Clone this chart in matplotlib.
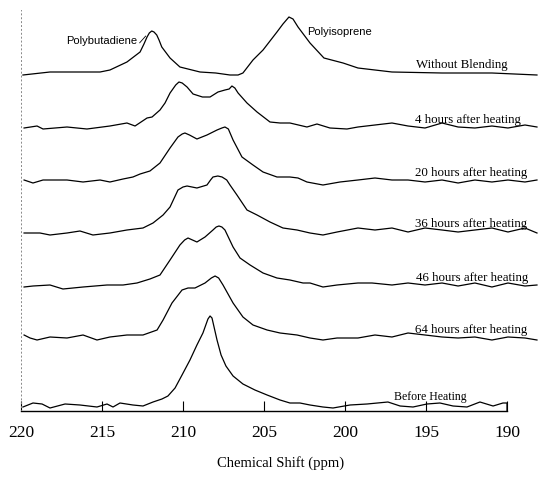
import matplotlib
matplotlib.use("Agg")
import matplotlib.pyplot as plt

# spectra: chemical shift (ppm) and intensity above each trace's baseline
ppm_without = [219.88, 218.21, 215.12, 214.51, 213.46, 212.65, 212.41, 212.22, 212.08, 211.93,
               211.79, 211.62, 211.48, 211.31, 210.80, 210.19, 208.95, 207.98, 207.10, 206.60,
               206.30, 205.68, 205.06, 204.20, 203.83, 203.46, 203.21, 202.90, 202.16, 201.30,
               200.12, 199.20, 197.10, 194.01, 190.93, 188.15]
int_without = [-2, 1, 1, 3, 11, 21, 29, 36, 40, 42,
               41, 38, 33, 26, 15, 6, 1, 0, -2, -2,
               0, 13, 23, 41, 49, 56, 54, 46, 30, 15,
               10, 5, 1, 0, 0, -2]

ppm_4h = [219.81, 219.01, 218.64, 217.16, 215.93, 214.51, 213.46, 212.96, 212.22, 211.91,
          211.42, 211.11, 210.80, 210.45, 210.25, 210.05, 209.75, 209.38, 208.80, 208.33,
          207.84, 207.41, 207.15, 206.98, 206.80, 206.60, 206.05, 205.43, 204.63, 204.01,
          203.40, 202.35, 201.73, 200.93, 199.88, 199.20, 198.15, 197.10, 196.11, 195.06,
          194.01, 193.02, 191.98, 190.93, 189.94, 188.89, 188.15]
int_4h = [0, 2, -1, 1, -1, 2, 5, 2, 10, 11,
          18, 25, 35, 43, 46, 45, 41, 34, 31, 31,
          36, 38, 39, 42, 40, 35, 25, 16, 6, 5,
          5, 1, 4, 0, -1, 1, 3, 5, 2, 0,
          5, 1, 0, 2, 0, 3, 1]

ppm_20h = [219.81, 219.26, 218.64, 217.16, 216.17, 215.12, 214.51, 213.70, 213.09, 212.65,
           212.04, 211.42, 210.80, 210.31, 210.05, 209.88, 209.60, 209.14, 208.52, 207.90,
           207.60, 207.41, 207.20, 206.91, 206.36, 205.68, 205.06, 204.20, 203.40, 202.90,
           202.35, 201.36, 200.31, 199.20, 198.15, 197.10, 196.11, 195.06, 194.01, 193.02,
           191.98, 190.93, 189.94, 188.89, 188.15]
int_20h = [1, -2, 1, 1, -1, 1, -1, 2, 4, 7,
           10, 18, 33, 44, 47, 48, 46, 42, 46, 51,
           53, 54, 52, 41, 24, 16, 9, 4, 4, 3,
           -1, -4, -1, 1, 3, 1, 1, -1, 1, -2,
           1, -1, 1, -1, 1]

ppm_36h = [219.81, 218.83, 218.21, 217.16, 216.36, 215.56, 214.51, 213.46, 212.47, 211.85,
           211.23, 210.80, 210.31, 210.00, 209.75, 209.14, 208.52, 208.30, 208.15, 207.85,
           207.59, 207.30, 207.10, 206.67, 206.05, 205.43, 204.63, 203.83, 202.96, 202.16,
           201.36, 200.49, 199.20, 198.15, 197.10, 196.11, 195.06, 194.01, 193.02, 191.98,
           190.93, 189.94, 188.89, 188.15]
int_36h = [-1, -1, -3, -1, 1, -3, -1, 2, 4, 9,
           17, 25, 42, 45, 46, 44, 47, 52, 55, 56,
           55, 52, 47, 37, 22, 17, 10, 4, 2, -1,
           -3, 0, 4, 2, 4, 0, 4, 2, 0, 2,
           4, 0, 4, -1]

ppm_46h = [219.81, 219.26, 218.21, 217.41, 216.17, 214.69, 213.70, 212.84, 212.04, 211.42,
           210.80, 210.19, 209.90, 209.69, 209.14, 208.64, 208.15, 207.95, 207.78, 207.60,
           207.41, 206.91, 206.48, 205.86, 205.06, 204.20, 203.40, 202.59, 202.16, 201.36,
           200.49, 199.20, 198.33, 197.10, 196.11, 195.06, 194.01, 193.02, 191.98, 190.93,
           189.94, 188.89, 188.15]
int_46h = [-1, 0, 1, -3, -1, 1, 1, 3, 7, 11,
           26, 41, 46, 48, 44, 49, 56, 59, 60, 59,
           56, 39, 28, 21, 13, 8, 6, 3, 3, -1,
           1, 3, 3, 1, 3, 1, 3, 0, 3, -1,
           3, 0, 1]

ppm_64h = [219.81, 219.44, 219.01, 218.21, 217.16, 216.17, 215.31, 214.51, 213.46, 212.47,
           211.60, 211.23, 210.68, 210.06, 209.69, 209.26, 208.64, 208.25, 208.02, 207.80,
           207.53, 206.91, 206.30, 205.68, 204.81, 204.01, 202.96, 202.16, 201.36, 200.49,
           199.20, 198.15, 197.10, 196.11, 195.06, 194.01, 193.02, 191.98, 190.93, 189.94,
           188.89, 188.15]
int_64h = [3, 0, -2, 1, 0, 3, -2, 1, 3, 3,
           8, 18, 35, 48, 50, 50, 55, 60, 62, 60,
           53, 35, 21, 13, 8, 5, 3, 0, -2, 0,
           0, 3, 1, 5, 3, 1, 0, 1, -2, 1,
           0, -2]

ppm_before = [219.88, 219.26, 218.70, 218.21, 217.28, 216.36, 215.31, 214.69, 214.32, 213.89,
              213.09, 212.47, 211.85, 211.30, 210.93, 210.49, 210.06, 209.57, 209.14, 208.77,
              208.46, 208.33, 208.21, 207.90, 207.65, 207.35, 206.91, 206.30, 205.56, 204.81,
              204.01, 203.40, 202.78, 202.16, 201.36, 200.74, 199.69, 198.64, 197.35, 196.60,
              195.80, 194.94, 194.14, 193.33, 192.47, 191.67, 190.86, 190.25, 190.00, 190.00]
int_before = [-2, 2, 1, -3, 1, 0, -2, 1, -2, 2,
              0, -1, 3, 6, 9, 17, 30, 45, 60, 72,
              86, 89, 87, 65, 50, 39, 29, 21, 15, 10,
              5, 2, 2, 0, -2, -3, 0, 1, 3, -1,
              -2, 1, 2, -1, -2, 3, -1, 2, 2, -6]

labels = ["Without Blending", "4 hours after heating", "20 hours after heating",
          "36 hours after heating", "46 hours after heating", "64 hours after heating",
          "Before Heating"]
xticks = [220, 215, 210, 205, 200, 195, 190]

spectra = [(ppm_without, int_without), (ppm_4h, int_4h), (ppm_20h, int_20h),
           (ppm_36h, int_36h), (ppm_46h, int_46h), (ppm_64h, int_64h),
           (ppm_before, int_before)]
# vertical stacking of the traces (layout only)
offsets = [338, 283, 230, 179, 125, 73, 6]
label_x = [195.6, 195.7, 195.7, 195.7, 195.6, 195.7, 197.0]
label_size = [9.3, 9.3, 9.3, 9.3, 9.3, 9.3, 8.5]

fig = plt.figure(figsize=(5.55, 4.82), dpi=100)
ax = fig.add_axes([21 / 555, 71 / 482, 518.4 / 555, 401 / 482])

for (x, y), off, lab, lx, fs in zip(spectra, offsets, labels, label_x, label_size):
    ax.plot(x, [v + off for v in y], color="black", lw=0.9)
    ax.text(lx, off + 8, lab, ha="left", va="center", fontsize=fs,
            family="Liberation Serif")

# leader from the text's lower right corner up to the peak flank
ax.annotate("Polybutadiene", xy=(212.3, 375), xytext=(212.85, 370),
            ha="right", va="center", fontsize=8, family="Liberation Sans",
            arrowprops=dict(arrowstyle="-", lw=0.6, color="black",
                            relpos=(1.0, 0.0), shrinkA=0, shrinkB=0))
ax.text(202.35, 379, "Polyisoprene", ha="left", va="center", fontsize=8,
        family="Liberation Sans")

ax.set_xlim(220, 188)
ax.set_ylim(0, 401)
ax.set_xticks(xticks)
ax.set_xticklabels([str(t) for t in xticks], family="Liberation Serif", fontsize=12.5)
ax.tick_params(axis="x", direction="in", length=7, width=0.8, pad=10)
ax.set_yticks([])
ax.set_xlabel("Chemical Shift (ppm)", family="Liberation Serif", fontsize=10.5,
              labelpad=11)

for s in ["top", "right"]:
    ax.spines[s].set_visible(False)
ax.spines["bottom"].set_bounds(190, 220)
ax.spines["bottom"].set_linewidth(1.0)
ax.spines["left"].set_linestyle((0, (1, 3)))
ax.spines["left"].set_color("#888888")
ax.spines["left"].set_linewidth(0.7)

fig.savefig("out.png", dpi=100)
